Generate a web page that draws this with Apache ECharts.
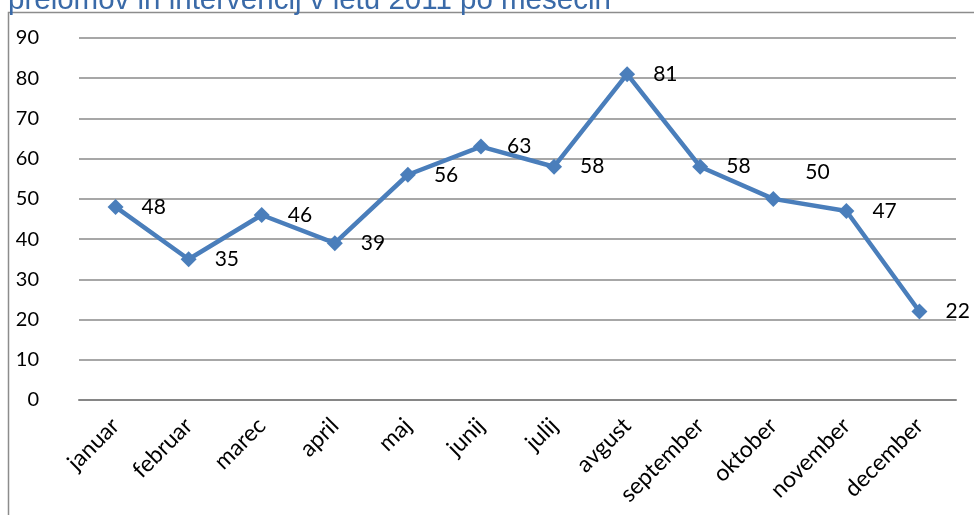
<!DOCTYPE html>
<html>
<head>
<meta charset="utf-8">
<script src="https://cdn.jsdelivr.net/npm/echarts@6/dist/echarts.min.js"></script>
<style>
  html, body { margin: 0; padding: 0; background: #fff; }
  #chart { width: 974px; height: 515px; }
</style>
</head>
<body>
<div id="chart"></div>
<script>
// meseci in vrednosti
const months = ['januar', 'februar', 'marec', 'april', 'maj', 'junij', 'julij', 'avgust', 'september', 'oktober', 'november', 'december']
const values = [48, 35, 46, 39, 56, 63, 58, 81, 58, 50, 47, 22]
const titleText = 'prelomov in intervencij v letu 2011 po mesecih'

const chart = echarts.init(document.getElementById('chart'))

const seriesData = values.map((v, i) => {
  // oktober label sits above the point in the original
  if (i === 9) {
    return { value: v, label: { offset: [6, -27] } }
  }
  return v
})

const option = {
  animation: false,
  grid: { left: 79, right: 18, top: 38, bottom: 115 },
  graphic: [
    {
      type: 'rect',
      shape: { x: 8.5, y: 12.5, width: 1000, height: 600 },
      style: { fill: 'none', stroke: '#8c8c8c', lineWidth: 1.5 }
    },
    {
      type: 'text',
      left: 8,
      top: -14,
      style: {
        text: titleText,
        fill: '#3a6aa8',
        font: '29.5px "Liberation Sans", Arial, sans-serif'
      }
    }
  ],
  xAxis: {
    type: 'category',
    data: months,
    axisLine: { lineStyle: { color: '#868686', width: 2 } },
    axisTick: { show: false },
    axisLabel: {
      rotate: 45,
      margin: 22,
      color: '#000',
      fontSize: 23,
      fontFamily: 'Lato'
    }
  },
  yAxis: {
    type: 'value',
    min: 0,
    max: 90,
    interval: 10,
    axisLine: { show: false },
    axisTick: { show: false },
    axisLabel: { color: '#000', fontSize: 20, fontFamily: 'Lato', margin: 40 },
    splitLine: { lineStyle: { color: '#8a8a8a', width: 1.5 } }
  },
  series: [{
    type: 'line',
    data: seriesData,
    symbol: 'diamond',
    symbolSize: 16,
    lineStyle: { color: '#4a7ebb', width: 4.5 },
    itemStyle: { color: '#4a7ebb' },
    label: {
      show: true,
      position: 'right',
      distance: 18,
      color: '#000',
      fontSize: 21,
      fontFamily: 'Lato'
    }
  }]
}

chart.setOption(option)
</script>
</body>
</html>
